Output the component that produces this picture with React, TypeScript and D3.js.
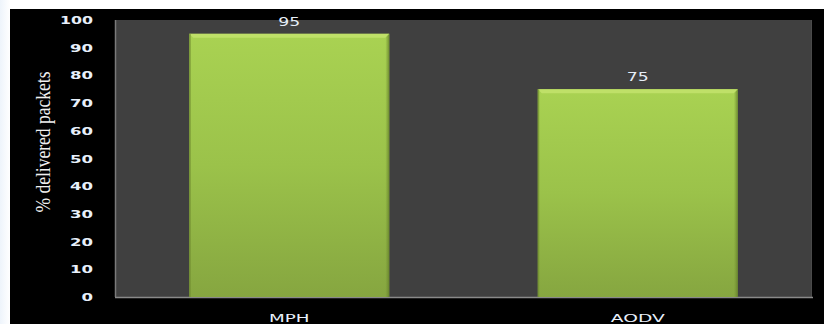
import React from "react";
import * as d3 from "d3";

const categories = ["MPH", "AODV"];
const values = [95, 75];
const yTicks = [0, 10, 20, 30, 40, 50, 60, 70, 80, 90, 100];
const yTitle = "% delivered packets";

const W = 824;
const H = 324;
const plot = { left: 115, right: 812, top: 20, bottom: 297 };

export default function App() {
  const x = d3
    .scaleBand<string>()
    .domain(categories)
    .range([plot.left, plot.right])
    .paddingInner(0.426)
    .paddingOuter(0.213);
  const y = d3.scaleLinear().domain([0, 100]).range([plot.bottom, plot.top]);
  const bw = x.bandwidth();
  const bev = 4;

  return (
    <div style={{ position: "fixed", left: 0, top: 0 }}>
      <svg width={W} height={H} style={{ display: "block" }}>
        <defs>
          <linearGradient id="barGrad" x1="0" y1="0" x2="0" y2="1">
            <stop offset="0" stopColor="#a9d252" />
            <stop offset="0.5" stopColor="#9bc24a" />
            <stop offset="1" stopColor="#86a640" />
          </linearGradient>
          <linearGradient id="bgLeft" x1="0" y1="0" x2="1" y2="0">
            <stop offset="0" stopColor="#eef4fb" />
            <stop offset="1" stopColor="#ffffff" />
          </linearGradient>
          <linearGradient id="rightEdge" x1="0" y1="0" x2="1" y2="0">
            <stop offset="0" stopColor="#6f8c30" stopOpacity={0} />
            <stop offset="1" stopColor="#5f7a28" stopOpacity={0.8} />
          </linearGradient>
        </defs>
        <rect x={0} y={0} width={W} height={H} fill="#ffffff" />
        <rect x={0} y={0} width={10} height={H} fill="url(#bgLeft)" />
        <rect x={10} y={9} width={W - 10} height={H - 9} fill="#000000" />
        <rect
          x={plot.left}
          y={plot.top}
          width={plot.right - plot.left}
          height={plot.bottom - plot.top}
          fill="#404040"
        />
        <line x1={plot.left + 0.5} x2={plot.left + 0.5} y1={plot.top} y2={plot.bottom} stroke="#7a7a7a" strokeWidth={1.5} />
        <line x1={plot.right - 0.5} x2={plot.right - 0.5} y1={plot.top} y2={plot.bottom} stroke="#4a4a4a" strokeWidth={1} />
        <line x1={plot.left} x2={plot.right + 1} y1={plot.bottom + 0.5} y2={plot.bottom + 0.5} stroke="#8a8a8a" strokeWidth={1.5} />

        {categories.map((c, i) => {
          const x0 = x(c)!;
          const x1 = x0 + bw;
          const yt = y(values[i]);
          const yb = y(0);
          return (
            <g key={c}>
              <rect x={x0} y={yt} width={bw} height={yb - yt} fill="url(#barGrad)" />
              <rect x={x1 - bev} y={yt} width={bev} height={yb - yt} fill="url(#rightEdge)" />
              <polygon
                points={`${x0},${yt} ${x1},${yt} ${x1 - bev},${yt + bev} ${x0 + bev},${yt + bev}`}
                fill="#bfe068"
              />
              <rect x={x0} y={yt} width={1.5} height={yb - yt} fill="#6f8c30" opacity={0.7} />
              <text
                x={x0 + bw / 2}
                y={yt - 8}
                textAnchor="middle"
                fill="#e6eef8"
                fontFamily="DejaVu Sans, sans-serif"
                fontSize={12}
                textLength={22}
                lengthAdjust="spacingAndGlyphs"
              >
                {values[i]}
              </text>
              <text
                x={x0 + bw / 2}
                y={322}
                textAnchor="middle"
                fill="#e8f0fb"
                fontFamily="DejaVu Sans, sans-serif"
                fontSize={11}
                textLength={c.length * 13.5}
                lengthAdjust="spacingAndGlyphs"
              >
                {c}
              </text>
            </g>
          );
        })}

        {yTicks.map((t) => {
          const s = String(t);
          return (
            <text
              key={t}
              x={93}
              y={y(t) + 4}
              textAnchor="end"
              fill="#e8f0fb"
              fontFamily="DejaVu Sans, sans-serif"
              fontWeight="bold"
              fontSize={11}
              textLength={s.length === 3 ? 33 : s.length * 11.5}
              lengthAdjust="spacingAndGlyphs"
            >
              {s}
            </text>
          );
        })}

        <text
          transform={`translate(50,142) rotate(-90)`}
          textAnchor="middle"
          fill="#f0f0f0"
          fontFamily="Liberation Serif, serif"
          fontSize={20}
          textLength={141}
          lengthAdjust="spacingAndGlyphs"
        >
          {yTitle}
        </text>
      </svg>
    </div>
  );
}
